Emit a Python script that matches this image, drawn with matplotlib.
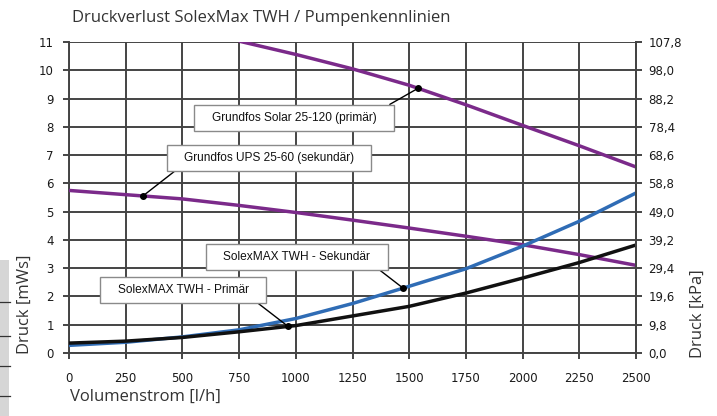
import numpy as np
import matplotlib
matplotlib.use("Agg")
import matplotlib.pyplot as plt
from matplotlib.path import Path
from matplotlib.patches import Rectangle

# ---------------- data ----------------
flow = [0, 250, 500, 750, 1000, 1250, 1500, 1750, 2000, 2250, 2500]
primaer = [0.35, 0.42, 0.55, 0.75, 0.97, 1.31, 1.65, 2.12, 2.65, 3.20, 3.82]
sekundaer = [0.27, 0.38, 0.57, 0.82, 1.22, 1.75, 2.36, 2.98, 3.78, 4.66, 5.66]
ups_flow = [0, 250, 500, 750, 1000, 1250, 1500, 1750, 2000, 2250, 2500]
ups = [5.75, 5.60, 5.45, 5.22, 4.97, 4.70, 4.42, 4.13, 3.83, 3.48, 3.10]
solar_flow = [750, 1000, 1250, 1500, 1750, 2000, 2250, 2500]
solar = [11.03, 10.56, 10.05, 9.47, 8.78, 8.05, 7.33, 6.58]

x_ticks = [0, 250, 500, 750, 1000, 1250, 1500, 1750, 2000, 2250, 2500]
y_ticks = list(range(0, 12))
kpa_labels = ["0,0", "9,8", "19,6", "29,4", "39,2", "49,0", "58,8",
              "68,6", "78,4", "88,2", "98,0", "107,8"]

labels = ["Grundfos Solar 25-120 (primär)", "Grundfos UPS 25-60 (sekundär)",
          "SolexMAX TWH - Sekundär", "SolexMAX TWH - Primär"]
label_point_x = [1539, 326, 1473, 966]
label_box_xy = [(992, 8.31), (882, 6.90), (1005, 3.40), (503, 2.23)]
label_relpos = [(1, 1), (0, 0), (1, 0), (1, 0)]

# ---------------- figure ----------------
W, H = 717, 416
fig = plt.figure(figsize=(W / 100, H / 100), dpi=100)
ax = fig.add_axes([69 / W, 1 - 353 / H, (636 - 69) / W, (353 - 42) / H])

purple = "#7b2a8a"
blue = "#2f6cb5"
grid_c = "#444444"

ax.set_xlim(0, 2500)
ax.set_ylim(0, 11)
ax.set_xticks(x_ticks)
ax.set_yticks(y_ticks)
ax.grid(True, color=grid_c, lw=1.4)
ax.set_axisbelow(True)
ax.spines["top"].set_visible(False)
for s in ["left", "right", "bottom"]:
    ax.spines[s].set_color(grid_c)
    ax.spines[s].set_linewidth(1.4)

tick_font = dict(family="DejaVu Sans", size=8.5, color="#1a1a1a")
ax.set_xticklabels([str(v) for v in x_ticks], **tick_font)
ax.set_yticklabels([str(v) for v in y_ticks], **tick_font)
ax.tick_params(axis="x", direction="out", length=4, width=1.4, color=grid_c, pad=10)
ax.tick_params(axis="y", direction="out", length=4, width=1.4, color=grid_c, pad=7)

ax2 = ax.twinx()
ax2.set_ylim(0, 11)
ax2.set_yticks(y_ticks)
ax2.set_yticklabels(kpa_labels, **tick_font)
ax2.tick_params(axis="y", direction="out", length=4, width=1.4, color=grid_c, pad=5)
for s in ["top", "left", "bottom"]:
    ax2.spines[s].set_visible(False)
ax2.spines["right"].set_color(grid_c)
ax2.spines["right"].set_linewidth(1.4)

ax.plot(solar_flow, solar, color=purple, lw=2.5, zorder=3, solid_capstyle="butt")
ax.plot(ups_flow, ups, color=purple, lw=2.5, zorder=3, solid_capstyle="butt")
ax.plot(flow, sekundaer, color=blue, lw=2.5, zorder=3, solid_capstyle="butt")
ax.plot(flow, primaer, color="#111111", lw=2.5, zorder=3, solid_capstyle="butt")

curves = [(solar_flow, solar), (ups_flow, ups), (flow, sekundaer), (flow, primaer)]


def wide_box(x0, y0, width, height, mutation_size):
    px = mutation_size * 1.45
    py = mutation_size * 0.6
    x0, y0 = x0 - px, y0 - py
    x1, y1 = x0 + width + 2 * px, y0 + height + 2 * py
    return Path([(x0, y0), (x1, y0), (x1, y1), (x0, y1), (x0, y0)], closed=True)


for txt, px_, bxy, rp, (cx, cy) in zip(labels, label_point_x, label_box_xy,
                                       label_relpos, curves):
    py_ = float(np.interp(px_, cx, cy))
    ax.plot([px_], [py_], "o", color="black", ms=4, zorder=6)
    ax.annotate(txt, xy=(px_, py_), xytext=bxy, textcoords="data",
                ha="center", va="center", zorder=5,
                fontsize=8.6, family="Liberation Sans", color="#111111",
                bbox=dict(boxstyle=wide_box, fc="white", ec="#8a8a8a", lw=1.0),
                arrowprops=dict(arrowstyle="-", color="black", lw=1.0,
                                shrinkA=0, shrinkB=0, relpos=rp))

title_font = dict(family="Open Sans", size=12, color="#333333")
fig.text(72 / W, 1 - 18 / H, "Druckverlust SolexMax TWH / Pumpenkennlinien",
         ha="left", va="center", **title_font)
fig.text(70 / W, 1 - 397 / H, "Volumenstrom [l/h]", ha="left", va="center",
         **title_font)
fig.text(25 / W, 1 - 304 / H, "Druck [mWs]", ha="center", va="center",
         rotation=90, **title_font)
fig.text(698 / W, 1 - 314 / H, "Druck [kPa]", ha="center", va="center",
         rotation=90, **title_font)

# cut-off table fragment at the left edge
fig.add_artist(Rectangle((0, 0), 9 / W, (H - 260) / H, transform=fig.transFigure,
                         fc="#d6d6d6", ec="none"))
for yy in [302, 336, 366, 396]:
    fig.add_artist(plt.Line2D([0, 10 / W], [1 - yy / H] * 2,
                              transform=fig.transFigure, color="#333333", lw=0.9))

fig.savefig("out.png", dpi=100)
